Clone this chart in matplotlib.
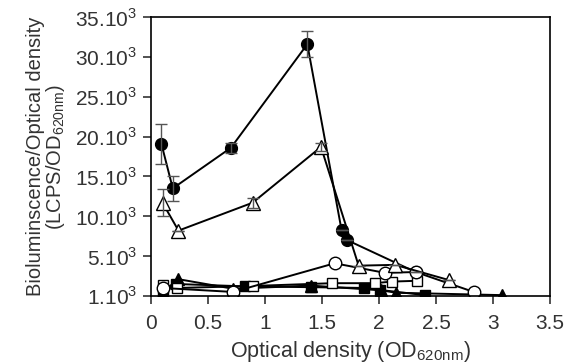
import numpy as np
import matplotlib.pyplot as plt

plt.rcParams['font.family'] = ['Liberation Sans', 'DejaVu Sans']
plt.rcParams['mathtext.fontset'] = 'custom'
plt.rcParams['mathtext.rm'] = 'Liberation Sans'

# data (y in thousands)
fc_x = [0.09, 0.19, 0.70, 1.37, 1.67, 1.72, 2.32]
fc_y = [19.1, 13.5, 18.6, 31.6, 8.3, 7.0, 3.0]
fc_err = [2.5, 1.6, 0.6, 1.6, 0, 0, 0]

ot_x = [0.10, 0.24, 0.89, 1.49, 1.82, 2.14, 2.61]
ot_y = [11.7, 8.2, 11.7, 18.7, 3.8, 3.9, 2.0]
ot_err = [1.7, 0, 0.6, 0.5, 0, 0, 0]

oc_x = [0.10, 0.72, 1.61, 2.05, 2.32, 2.83]
oc_y = [1.0, 0.5, 4.1, 2.9, 3.0, 0.5]

os_x = [0.10, 0.23, 0.89, 1.59, 1.96, 2.11, 2.33]
os_y = [1.4, 1.0, 1.25, 1.6, 1.6, 1.8, 1.9]

fs_x = [0.10, 0.22, 0.82, 1.40, 1.87, 2.01, 2.40]
fs_y = [0.3, 1.5, 1.2, 1.1, 1.0, 0.75, 0.1]

ft_x = [0.10, 0.24, 0.72, 1.40, 2.02, 2.15, 3.08]
ft_y = [0.5, 2.1, 0.9, 1.3, 0.7, 0.4, 0.1]

xticks = [0, 0.5, 1, 1.5, 2, 2.5, 3, 3.5]
xlabels = ['0', '0.5', '1', '1.5', '2', '2.5', '3', '3.5']
yticks = [0, 5, 10, 15, 20, 25, 30, 35]
ylabels = ['1.10$^{3}$', '5.10$^{3}$', '10.10$^{3}$', '15.10$^{3}$',
           '20.10$^{3}$', '25.10$^{3}$', '30.10$^{3}$', '35.10$^{3}$']

fig = plt.figure(figsize=(5.66, 3.64), dpi=100)
ax = fig.add_axes([0.267, 0.187, 0.705, 0.766])

lw = 1.4
ax.plot(fs_x, fs_y, 'k-', marker='s', ms=7, mfc='k', mec='k', lw=lw)
ax.plot(ft_x, ft_y, 'k-', marker='^', ms=8, mfc='k', mec='k', lw=lw)
ax.plot(os_x, os_y, 'k-', marker='s', ms=7.5, mfc='w', mec='k', mew=1, lw=lw)
ax.plot(fc_x, fc_y, 'k-', marker='o', ms=8.5, mfc='k', mec='k', lw=lw)
ax.plot(oc_x, oc_y, 'k-', marker='o', ms=9, mfc='w', mec='k', mew=1, lw=lw)
ax.plot(ot_x, ot_y, 'k-', marker='^', ms=9.5, mfc='w', mec='k', mew=1, lw=lw)
ax.errorbar(fc_x, fc_y, yerr=fc_err, fmt='none', ecolor='#555555', elinewidth=1, capsize=4)
ax.errorbar(ot_x, ot_y, yerr=ot_err, fmt='none', ecolor='#555555', elinewidth=1, capsize=4)

ax.set_xlim(0, 3.5)
ax.set_ylim(0, 35)
ax.set_xticks(xticks)
ax.set_xticklabels(xlabels)
ax.set_yticks(yticks)
ax.set_yticklabels(ylabels)
ax.tick_params(direction='out', length=6, width=1.2, labelsize=15, colors='#333333')
ax.tick_params(axis='x', pad=7)
ax.tick_params(axis='y', pad=4)
for s in ax.spines.values():
    s.set_linewidth(1.2)

ax.set_xlabel('Optical density (OD$_{\\mathregular{620nm}}$)', fontsize=15.5, color='#333333',
              labelpad=4)
ax.set_ylabel('Bioluminscence/Optical density\n(LCPS/OD$_{\\mathregular{620nm}}$)', fontsize=14.5,
              color='#333333', multialignment='center', linespacing=0.95, labelpad=6)

plt.savefig('out.png', dpi=100)
